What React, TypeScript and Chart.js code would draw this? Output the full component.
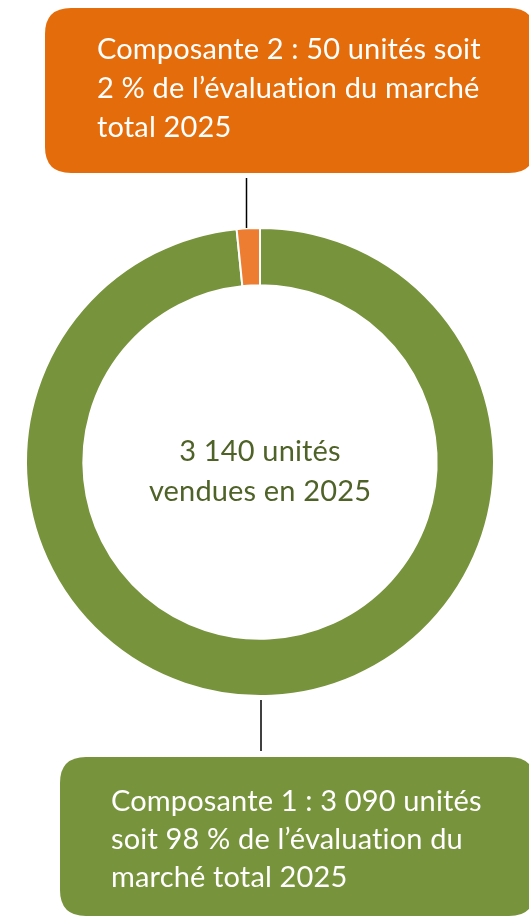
import React, { useEffect, useRef } from "react";
import { Chart, registerables } from "chart.js";

Chart.register(...registerables);

const labels = ["Composante 1", "Composante 2"];
const values = [3090, 50];
const sliceColors = ["#77933C", "#ED7D31"];
const centerLines = ["3 140 unités", "vendues en 2025"];
const calloutTop = ["Composante 2 : 50 unités soit", "2 % de l’évaluation du marché", "total 2025"];
const calloutBottom = ["Composante 1 : 3 090 unités", "soit 98 % de l’évaluation du", "marché total 2025"];

const FONT = "Lato, 'Open Sans', sans-serif";

function roundRect(ctx: CanvasRenderingContext2D, x: number, y: number, w: number, h: number, r: number) {
  ctx.beginPath();
  ctx.moveTo(x + r, y);
  ctx.lineTo(x + w - r, y);
  ctx.quadraticCurveTo(x + w, y, x + w, y + r);
  ctx.lineTo(x + w, y + h - r);
  ctx.quadraticCurveTo(x + w, y + h, x + w - r, y + h);
  ctx.lineTo(x + r, y + h);
  ctx.quadraticCurveTo(x, y + h, x, y + h - r);
  ctx.lineTo(x, y + r);
  ctx.quadraticCurveTo(x, y, x + r, y);
  ctx.closePath();
}

const calloutPlugin = {
  id: "callouts",
  afterDraw(chart: any) {
    const ctx: CanvasRenderingContext2D = chart.ctx;
    const meta = chart.getDatasetMeta(0);
    const small = meta.data[1];
    const big = meta.data[0];
    const cx = small.x;
    const cy = small.y;
    const outer = small.outerRadius;
    ctx.save();
    try {
      (ctx as any).letterSpacing = "0.15px";
    } catch (e) {}

    // top box
    ctx.fillStyle = "#E46C0A";
    roundRect(ctx, 45, 8, 490, 165, 26);
    ctx.fill();
    ctx.fillStyle = "#FFFFFF";
    ctx.font = `29px ${FONT}`;
    ctx.textAlign = "left";
    ctx.textBaseline = "alphabetic";
    calloutTop.forEach((t, i) => ctx.fillText(t, 97, 59 + i * 39));

    // bottom box
    ctx.fillStyle = "#77933C";
    roundRect(ctx, 60, 757, 475, 159, 26);
    ctx.fill();
    ctx.fillStyle = "#FFFFFF";
    calloutBottom.forEach((t, i) => ctx.fillText(t, 111, 811 + i * 38));

    // leader lines
    const mid = (small.startAngle + small.endAngle) / 2;
    const lx = cx + outer * Math.cos(mid);
    ctx.strokeStyle = "#000000";
    ctx.lineWidth = 1.5;
    ctx.beginPath();
    ctx.moveTo(Math.round(lx) - 1.5, 178);
    ctx.lineTo(Math.round(lx) - 1.5, cy - outer);
    ctx.stroke();
    ctx.beginPath();
    ctx.moveTo(Math.round(cx) + 1, cy + big.outerRadius + 4);
    ctx.lineTo(Math.round(cx) + 1, 751);
    ctx.stroke();

    // center text
    ctx.fillStyle = "#4F6228";
    ctx.font = `29px ${FONT}`;
    ctx.textAlign = "center";
    ctx.textBaseline = "middle";
    ctx.fillText(centerLines[0], cx, cy - 10);
    ctx.fillText(centerLines[1], cx, cy + 30);
    ctx.restore();
  },
};

export default function App() {
  const ref = useRef<HTMLCanvasElement>(null);
  useEffect(() => {
    if (!ref.current) return;
    const chart = new Chart(ref.current, {
      type: "doughnut",
      data: {
        labels,
        datasets: [
          {
            data: values,
            backgroundColor: sliceColors,
            borderColor: "#FFFFFF",
            borderWidth: 2,
          },
        ],
      },
      options: {
        responsive: false,
        animation: false,
        cutout: "75.5%",
        layout: { padding: { left: 25, right: 34, top: 227, bottom: 221 } },
        plugins: { legend: { display: false }, tooltip: { enabled: false } },
      },
      plugins: [calloutPlugin],
    });
    return () => chart.destroy();
  }, []);
  return (
    <div style={{ position: "fixed", left: 0, top: 0, width: 529, height: 918, background: "#fff" }}>
      <canvas ref={ref} width={529} height={918} />
    </div>
  );
}
